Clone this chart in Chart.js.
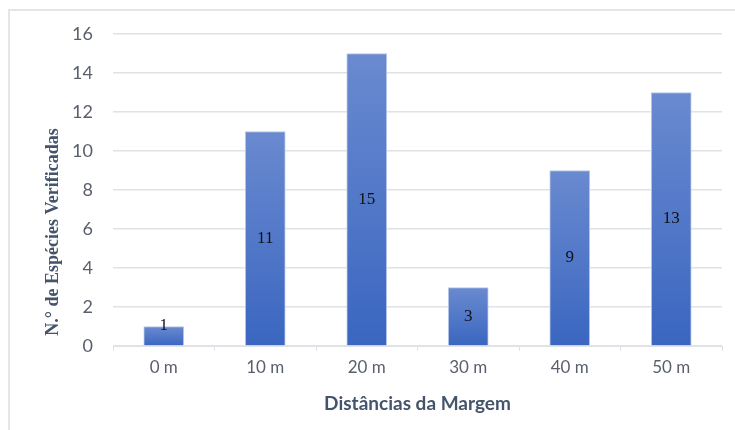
<!DOCTYPE html>
<html>
<head>
<meta charset="utf-8">
<script src="https://cdn.jsdelivr.net/npm/chart.js@4"></script>
<style>
    html, body { margin: 0; padding: 0; background: #ffffff; }
    .wrap { position: relative; width: 735px; height: 430px; overflow: hidden; }
    .frame { position: absolute; left: 8px; top: 9px; width: 800px; height: 500px; border: 2px solid #e2e5e9; }
    canvas { position: absolute; left: 0; top: 0; }
</style>
</head>
<body>
<div class="wrap">
    <div class="frame"></div>
    <canvas id="species-chart" width="735" height="430"></canvas>
</div>
<script>
const distances = ['0 m', '10 m', '20 m', '30 m', '40 m', '50 m'];
const speciesCount = [1, 11, 15, 3, 9, 13];
const yTicks = [0, 2, 4, 6, 8, 10, 12, 14, 16];

const yTitle = 'N.° de Espécies Verificadas';
const xTitle = 'Distâncias da Margem';

const tickColor = '#595f6b';
const gridColor = '#dfe2e6';

const barGradient = (context) => {
    const chart = context.chart;

    if (!chart.chartArea || context.raw === undefined) {
        return '#4f78c9';
    }

    const top = chart.scales.y.getPixelForValue(context.raw);
    const bottom = chart.scales.y.getPixelForValue(0);
    const gradient = chart.ctx.createLinearGradient(0, top, 0, bottom);
    gradient.addColorStop(0, '#6a8ad0');
    gradient.addColorStop(1, '#3a66c0');

    return gradient;
};

const barLabels = {
    id: 'barLabels',
    afterDatasetsDraw(chart) {
        const { ctx } = chart;
        const meta = chart.getDatasetMeta(0);

        ctx.save();
        ctx.font = '17px "Liberation Serif", "Times New Roman", serif';
        ctx.fillStyle = '#111111';
        ctx.textAlign = 'center';
        ctx.textBaseline = 'middle';

        meta.data.forEach((bar, i) => {
            const height = bar.base - bar.y;
            const y = height < 25 ? bar.y - 1 : (bar.y + bar.base) / 2;
            ctx.fillText(String(speciesCount[i]), bar.x, y);
        });

        ctx.restore();
    },
};

const sideTitle = {
    id: 'sideTitle',
    afterDraw(chart) {
        const { ctx } = chart;

        ctx.save();
        ctx.translate(53, 232);
        ctx.rotate(-Math.PI / 2);
        ctx.font = 'bold 18px "Liberation Serif", "Times New Roman", serif';
        ctx.fillStyle = '#44546a';
        ctx.textAlign = 'center';
        ctx.textBaseline = 'middle';
        ctx.fillText(yTitle, 0, 0);
        ctx.restore();
    },
};

new Chart(document.getElementById('species-chart'), {
    type: 'bar',
    data: {
        labels: distances,
        datasets: [{
            label: yTitle,
            data: speciesCount,
            backgroundColor: barGradient,
            borderColor: '#b9c9ea',
            borderWidth: 1,
            borderSkipped: 'bottom',
            barThickness: 40,
        }],
    },
    options: {
        responsive: false,
        animation: false,
        layout: {
            padding: { left: 0, top: 34, right: 13, bottom: 0 },
        },
        plugins: {
            legend: { display: false },
            tooltip: { enabled: false },
        },
        scales: {
            x: {
                afterFit: (scale) => { scale.height = 84; },
                grid: {
                    offset: true,
                    drawOnChartArea: false,
                    drawTicks: true,
                    tickLength: 5,
                    color: gridColor,
                },
                border: { color: gridColor, width: 1 },
                ticks: {
                    color: tickColor,
                    padding: 6,
                    font: { family: 'Lato, "Open Sans", sans-serif', size: 17 },
                },
                title: {
                    display: true,
                    text: xTitle,
                    color: '#44546a',
                    padding: { top: 0, bottom: 15 },
                    font: { family: 'Lato, "Open Sans", sans-serif', size: 19, weight: 'bold' },
                },
            },
            y: {
                min: 0,
                max: 16,
                afterFit: (scale) => { scale.width = 113; },
                afterBuildTicks: (scale) => { scale.ticks = yTicks.map((value) => ({ value })); },
                grid: {
                    drawTicks: false,
                    color: gridColor,
                    lineWidth: 1.5,
                },
                border: { display: false },
                ticks: {
                    color: tickColor,
                    padding: 20,
                    font: { family: 'Lato, "Open Sans", sans-serif', size: 18 },
                },
            },
        },
    },
    plugins: [barLabels, sideTitle],
});
</script>
</body>
</html>
